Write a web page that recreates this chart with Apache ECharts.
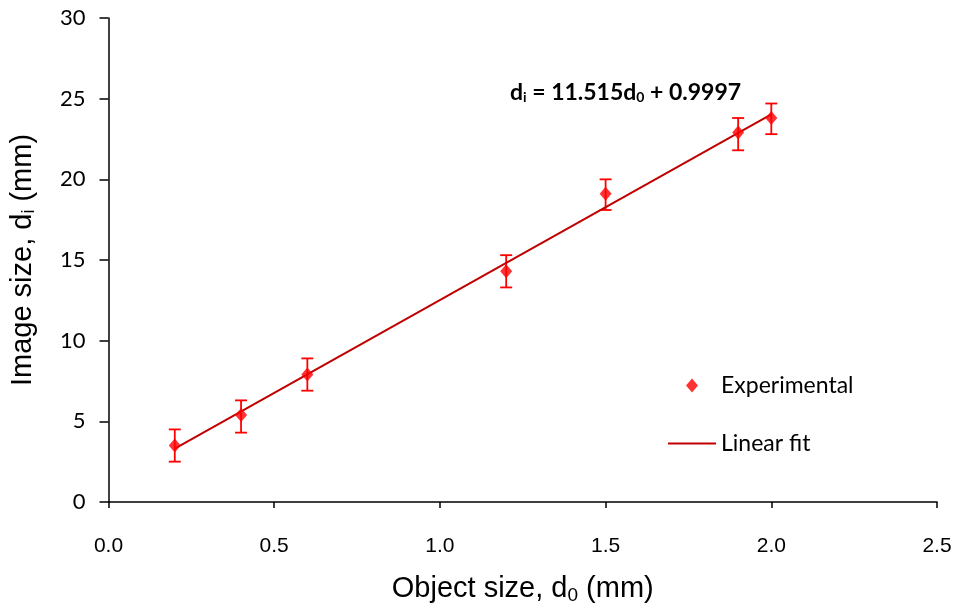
<!DOCTYPE html>
<html><head><meta charset="utf-8">
<script src="https://cdn.jsdelivr.net/npm/echarts@6/dist/echarts.min.js"></script>
<style>html,body{margin:0;padding:0;background:#fff}#c{width:959px;height:612px}</style>
</head><body><div id="c"></div>
<script>
// Data
const objectSize = [0.2, 0.4, 0.6, 1.2, 1.5, 1.9, 2.0];
const imageSize = [3.5, 5.4, 7.9, 14.3, 19.1, 22.9, 23.8];
const errLow = [2.5, 4.3, 6.9, 13.3, 18.1, 21.8, 22.8];
const errHigh = [4.5, 6.3, 8.9, 15.3, 20.0, 23.8, 24.7];
const fitSlope = 11.515;
const fitIntercept = 0.9997;
const fitX = [0.2, 2.0];

const expData = objectSize.map((x, i) => [x, imageSize[i]]);
const errData = objectSize.map((x, i) => [x, errLow[i], errHigh[i]]);
const fitData = fitX.map(x => [x, fitSlope * x + fitIntercept]);

const legendText = {fontFamily: 'Lato', fontSize: 23, color: '#000'};

const chart = echarts.init(document.getElementById('c'));
chart.setOption({
  animation: false,
  backgroundColor: '#fff',
  grid: {left: 108, right: 22, top: 18, bottom: 110},
  xAxis: {
    type: 'value', min: 0, max: 2.5, interval: 0.5,
    axisLine: {show: true, onZero: false, lineStyle: {color: '#000', width: 1.5}},
    axisTick: {show: true, inside: false, length: 6, lineStyle: {color: '#000', width: 1.5}},
    splitLine: {show: false},
    axisLabel: {margin: 34, fontFamily: 'Liberation Sans', fontSize: 21, color: '#000',
      formatter: v => v.toFixed(1)},
    name: '{t|Object size, d}{s|0}{t| (mm)}',
    nameLocation: 'middle', nameGap: 70,
    nameTextStyle: {rich: {
      t: {fontFamily: 'Liberation Sans', fontSize: 29, color: '#000'},
      s: {fontFamily: 'Liberation Sans', fontSize: 19, color: '#000', padding: [14, 0, 0, 0]}
    }}
  },
  yAxis: {
    type: 'value', min: 0, max: 30, interval: 5,
    axisLine: {show: true, onZero: false, lineStyle: {color: '#000', width: 1.5}},
    axisTick: {show: true, inside: false, length: 9, lineStyle: {color: '#000', width: 1.5}},
    splitLine: {show: false},
    axisLabel: {margin: 23, fontFamily: 'Lato', fontSize: 22, color: '#000'},
    name: '{t|Image size, d}{s|i}{t| (mm)}',
    nameLocation: 'middle', nameGap: 70, nameRotate: 90,
    nameTextStyle: {rich: {
      t: {fontFamily: 'Liberation Sans', fontSize: 29, color: '#000'},
      s: {fontFamily: 'Liberation Sans', fontSize: 18, color: '#000', padding: [14, 0, 0, 0]}
    }}
  },
  legend: [
    {
      left: 663, top: 369, itemWidth: 48, itemHeight: 14, itemGap: 0,
      textStyle: legendText,
      data: [{name: 'Experimental',
        icon: 'path://M0,0L0.01,0L0.01,0.01Z M48,14L47.99,14L47.99,13.99Z M24,0L30,7L24,14L18,7Z'}]
    },
    {
      left: 663, top: 427, itemWidth: 48, itemHeight: 14, itemGap: 0,
      textStyle: legendText, data: [{name: 'Linear fit', icon: 'path://M0,6L48,6L48,8L0,8Z'}]
    }
  ],
  graphic: [{
    type: 'text', left: 510, top: 81,
    style: {
      text: '{b|d}{s|i}{b| = 11.515d}{s|0}{b| + 0.9997}',
      rich: {
        b: {fontFamily: 'Lato', fontWeight: 'bold', fontSize: 23, color: '#000'},
        s: {fontFamily: 'Lato', fontWeight: 'bold', fontSize: 14, color: '#000', padding: [10, 0, 0, 0]}
      }
    }
  }],
  series: [
    {
      name: 'Linear fit', type: 'line', data: fitData, symbol: 'none',
      lineStyle: {color: '#c00000', width: 2}, itemStyle: {color: '#c00000'}, z: 3
    },
    {
      name: 'Error', type: 'custom', data: errData, z: 2,
      renderItem: function (params, api) {
        const x = api.value(0);
        const lo = api.coord([x, api.value(1)]);
        const hi = api.coord([x, api.value(2)]);
        const w = 6;
        const st = {stroke: '#ff0000', lineWidth: 1.8};
        return {type: 'group', children: [
          {type: 'line', shape: {x1: lo[0], y1: lo[1], x2: hi[0], y2: hi[1]}, style: st},
          {type: 'line', shape: {x1: lo[0] - w, y1: lo[1], x2: lo[0] + w, y2: lo[1]}, style: st},
          {type: 'line', shape: {x1: hi[0] - w, y1: hi[1], x2: hi[0] + w, y2: hi[1]}, style: st}
        ]};
      }
    },
    {
      name: 'Experimental', type: 'scatter', data: expData, symbol: 'diamond',
      symbolSize: [12, 14], itemStyle: {color: '#ff0000'}, z: 4
    }
  ]
});
</script></body></html>
